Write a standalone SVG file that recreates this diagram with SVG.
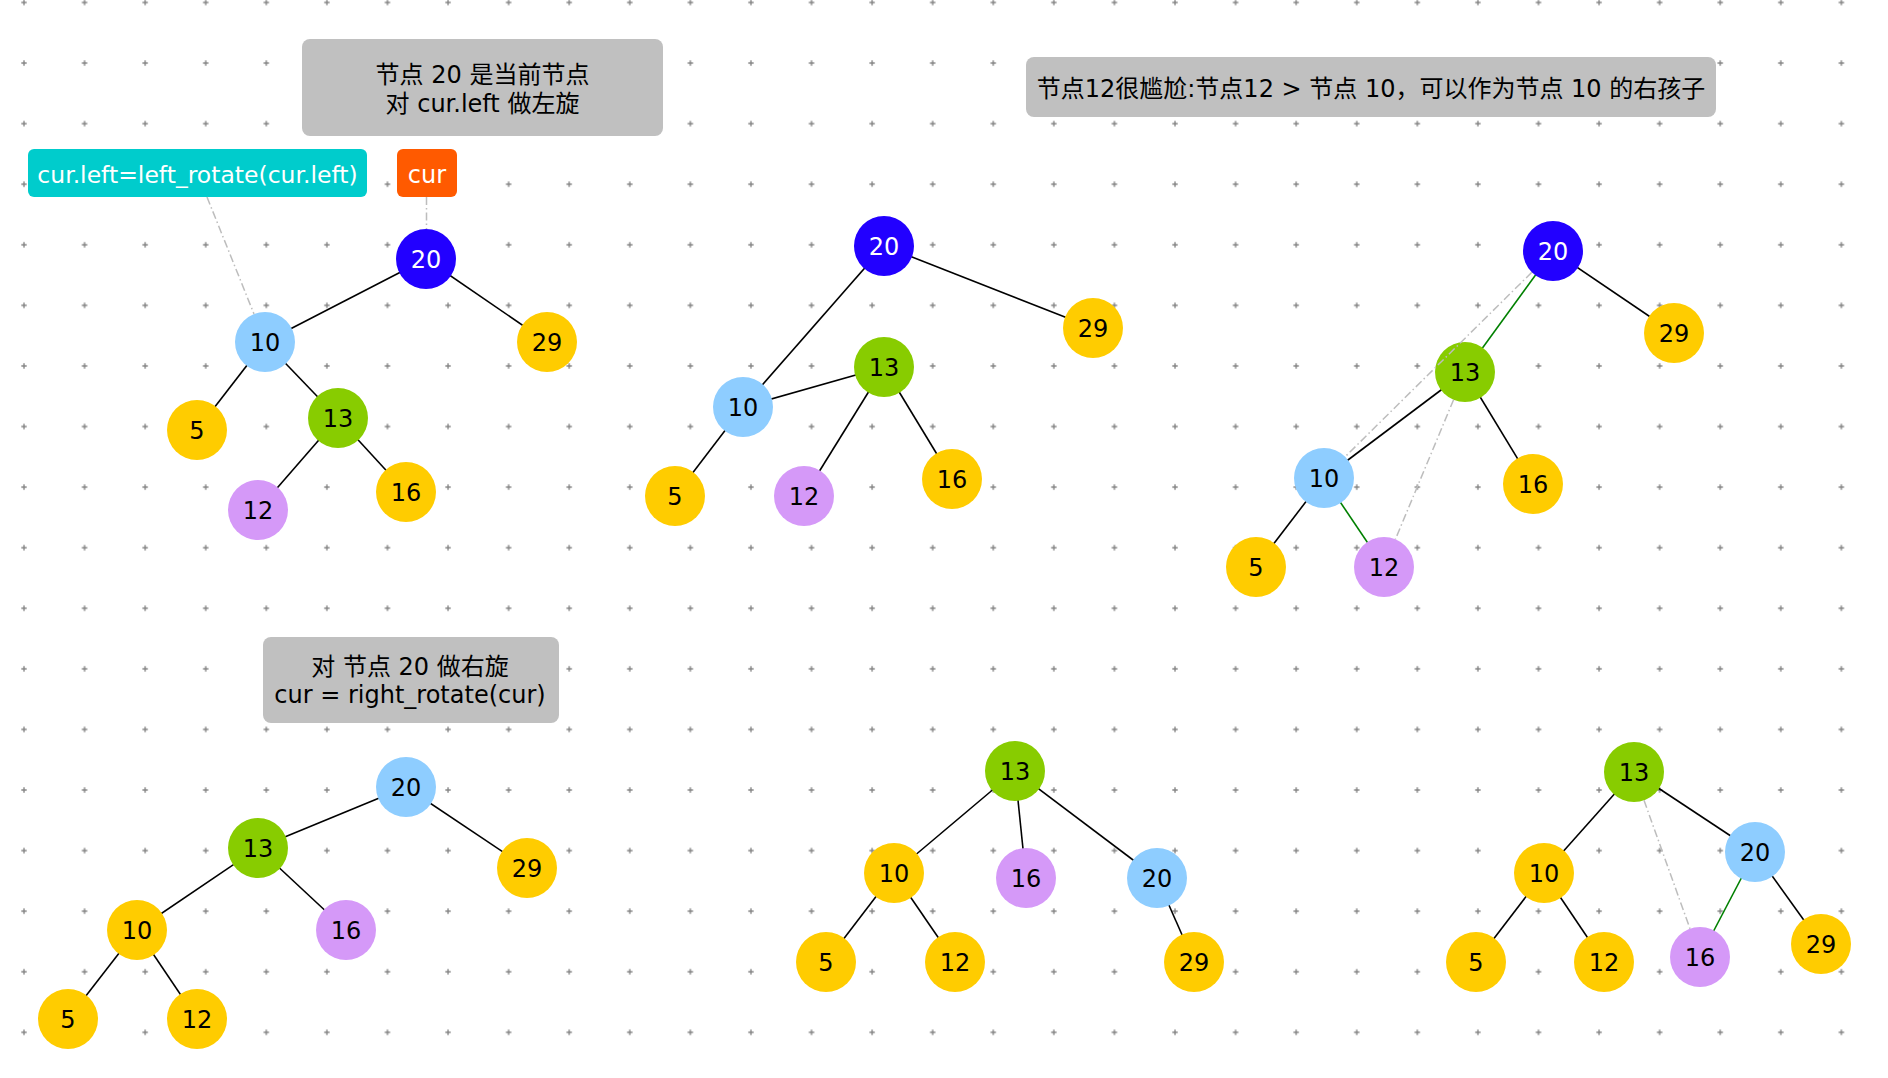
<svg xmlns="http://www.w3.org/2000/svg" width="1888" height="1078" viewBox="0 0 1888 1078">
<defs>
<pattern id="grid" patternUnits="userSpaceOnUse" x="21" y="-0.5" width="60.58" height="60.58">
<path d="M0.3 3H5.7M3 0.3V5.7" stroke="#858585" stroke-width="1.4" fill="none"/>
</pattern>
<style>
text{font-family:"DejaVu Sans","Noto Sans CJK SC",sans-serif;text-anchor:middle}
.nt{font-size:24px;fill:#000}
.wt{fill:#fff}
.blue{fill:#2200ff}
.lb{fill:#8ecdff}
.gr{fill:#88cc00}
.ye{fill:#ffcc00}
.pu{fill:#d599f8}
.e{stroke:#000;stroke-width:1.6;fill:none}
.g{stroke:#008000;stroke-width:1.6;fill:none}
.d{stroke:#bdbdbd;stroke-width:1.5;fill:none;stroke-dasharray:8 3 1.5 3}
.box{fill:#c0c0c0}
.bt{font-size:24px;fill:#000}
</style>
</defs>
<rect width="1888" height="1078" fill="#fff"/>
<rect width="1888" height="1078" fill="url(#grid)"/>

<g id="labels">
<g id="note1"><rect class="box" x="302" y="39" width="361" height="97" rx="8"/><text class="bt" x="482.5" y="83">节点 20 是当前节点</text><text class="bt" x="482.5" y="112">对 cur.left 做左旋</text></g>
<g id="note2"><rect class="box" x="1026" y="57" width="690" height="60" rx="8"/><text class="bt" x="1371" y="96.5">节点12很尴尬:节点12 &gt; 节点 10，可以作为节点 10 的右孩子</text></g>
<g id="note3"><rect class="box" x="263" y="637" width="296" height="86" rx="8"/><text class="bt" x="410" y="675">对 节点 20 做右旋</text><text class="bt" x="410" y="703">cur = right_rotate(cur)</text></g>
<g id="tagLeft"><rect x="28" y="149" width="339" height="48" rx="6" fill="#00cccc"/><text x="197.5" y="183" style="font-size:23.5px;fill:#fff">cur.left=left_rotate(cur.left)</text></g>
<g id="tagCur"><rect x="397" y="149" width="60" height="48" rx="6" fill="#ff5a00"/><text x="427" y="183" style="font-size:24px;fill:#fff">cur</text></g>
</g>

<g id="connectors">
<line class="e" x1="426" y1="259" x2="265" y2="342"/>
<line class="e" x1="426" y1="259" x2="547" y2="342"/>
<line class="e" x1="265" y1="342" x2="197" y2="430"/>
<line class="e" x1="265" y1="342" x2="338" y2="418"/>
<line class="e" x1="338" y1="418" x2="258" y2="510"/>
<line class="e" x1="338" y1="418" x2="406" y2="492"/>

<line class="e" x1="884" y1="246" x2="1093" y2="328"/>
<line class="e" x1="884" y1="246" x2="743" y2="407"/>
<line class="e" x1="743" y1="407" x2="675" y2="496"/>
<line class="e" x1="743" y1="407" x2="884" y2="367"/>
<line class="e" x1="884" y1="367" x2="804" y2="496"/>
<line class="e" x1="884" y1="367" x2="952" y2="479"/>

<line class="e" x1="1553" y1="251" x2="1674" y2="333"/>
<line class="g" x1="1553" y1="251" x2="1465" y2="372"/>
<line class="e" x1="1465" y1="372" x2="1324" y2="478"/>
<line class="e" x1="1465" y1="372" x2="1533" y2="484"/>
<line class="e" x1="1324" y1="478" x2="1256" y2="567"/>
<line class="g" x1="1324" y1="478" x2="1384" y2="567"/>

<line class="e" x1="406" y1="787" x2="258" y2="848"/>
<line class="e" x1="406" y1="787" x2="527" y2="868"/>
<line class="e" x1="258" y1="848" x2="137" y2="930"/>
<line class="e" x1="258" y1="848" x2="346" y2="930"/>
<line class="e" x1="137" y1="930" x2="68" y2="1019"/>
<line class="e" x1="137" y1="930" x2="197" y2="1019"/>

<line class="e" x1="1015" y1="771" x2="894" y2="873"/>
<line class="e" x1="1015" y1="771" x2="1026" y2="878"/>
<line class="e" x1="1015" y1="771" x2="1157" y2="878"/>
<line class="e" x1="894" y1="873" x2="826" y2="962"/>
<line class="e" x1="894" y1="873" x2="955" y2="962"/>
<line class="e" x1="1157" y1="878" x2="1194" y2="962"/>

<line class="e" x1="1634" y1="772" x2="1544" y2="873"/>
<line class="e" x1="1634" y1="772" x2="1755" y2="852"/>
<line class="e" x1="1544" y1="873" x2="1476" y2="962"/>
<line class="e" x1="1544" y1="873" x2="1604" y2="962"/>
<line class="g" x1="1755" y1="852" x2="1700" y2="957"/>
<line class="e" x1="1755" y1="852" x2="1821" y2="944"/>
</g>

<g id="treeA">
<g id="a20"><circle class="blue" cx="426" cy="259" r="30"/><text class="nt wt" x="426" y="267.5">20</text></g>
<g id="a29"><circle class="ye" cx="547" cy="342" r="30"/><text class="nt" x="547" y="350.5">29</text></g>
<g id="a10"><circle class="lb" cx="265" cy="342" r="30"/><text class="nt" x="265" y="350.5">10</text></g>
<g id="a13"><circle class="gr" cx="338" cy="418" r="30"/><text class="nt" x="338" y="426.5">13</text></g>
<g id="a5"><circle class="ye" cx="197" cy="430" r="30"/><text class="nt" x="197" y="438.5">5</text></g>
<g id="a12"><circle class="pu" cx="258" cy="510" r="30"/><text class="nt" x="258" y="518.5">12</text></g>
<g id="a16"><circle class="ye" cx="406" cy="492" r="30"/><text class="nt" x="406" y="500.5">16</text></g>
</g>
<g id="treeB">
<g id="b20"><circle class="blue" cx="884" cy="246" r="30"/><text class="nt wt" x="884" y="254.5">20</text></g>
<g id="b29"><circle class="ye" cx="1093" cy="328" r="30"/><text class="nt" x="1093" y="336.5">29</text></g>
<g id="b13"><circle class="gr" cx="884" cy="367" r="30"/><text class="nt" x="884" y="375.5">13</text></g>
<g id="b10"><circle class="lb" cx="743" cy="407" r="30"/><text class="nt" x="743" y="415.5">10</text></g>
<g id="b5"><circle class="ye" cx="675" cy="496" r="30"/><text class="nt" x="675" y="504.5">5</text></g>
<g id="b12"><circle class="pu" cx="804" cy="496" r="30"/><text class="nt" x="804" y="504.5">12</text></g>
<g id="b16"><circle class="ye" cx="952" cy="479" r="30"/><text class="nt" x="952" y="487.5">16</text></g>
</g>
<g id="treeC">
<g id="c20"><circle class="blue" cx="1553" cy="251" r="30"/><text class="nt wt" x="1553" y="259.5">20</text></g>
<g id="c29"><circle class="ye" cx="1674" cy="333" r="30"/><text class="nt" x="1674" y="341.5">29</text></g>
<g id="c13"><circle class="gr" cx="1465" cy="372" r="30"/><text class="nt" x="1465" y="380.5">13</text></g>
<g id="c10"><circle class="lb" cx="1324" cy="478" r="30"/><text class="nt" x="1324" y="486.5">10</text></g>
<g id="c16"><circle class="ye" cx="1533" cy="484" r="30"/><text class="nt" x="1533" y="492.5">16</text></g>
<g id="c5"><circle class="ye" cx="1256" cy="567" r="30"/><text class="nt" x="1256" y="575.5">5</text></g>
<g id="c12"><circle class="pu" cx="1384" cy="567" r="30"/><text class="nt" x="1384" y="575.5">12</text></g>
</g>
<g id="treeD">
<g id="d20"><circle class="lb" cx="406" cy="787" r="30"/><text class="nt" x="406" y="795.5">20</text></g>
<g id="d13"><circle class="gr" cx="258" cy="848" r="30"/><text class="nt" x="258" y="856.5">13</text></g>
<g id="d29"><circle class="ye" cx="527" cy="868" r="30"/><text class="nt" x="527" y="876.5">29</text></g>
<g id="d10"><circle class="ye" cx="137" cy="930" r="30"/><text class="nt" x="137" y="938.5">10</text></g>
<g id="d16"><circle class="pu" cx="346" cy="930" r="30"/><text class="nt" x="346" y="938.5">16</text></g>
<g id="d5"><circle class="ye" cx="68" cy="1019" r="30"/><text class="nt" x="68" y="1027.5">5</text></g>
<g id="d12"><circle class="ye" cx="197" cy="1019" r="30"/><text class="nt" x="197" y="1027.5">12</text></g>
</g>
<g id="treeE">
<g id="e13"><circle class="gr" cx="1015" cy="771" r="30"/><text class="nt" x="1015" y="779.5">13</text></g>
<g id="e10"><circle class="ye" cx="894" cy="873" r="30"/><text class="nt" x="894" y="881.5">10</text></g>
<g id="e16"><circle class="pu" cx="1026" cy="878" r="30"/><text class="nt" x="1026" y="886.5">16</text></g>
<g id="e20"><circle class="lb" cx="1157" cy="878" r="30"/><text class="nt" x="1157" y="886.5">20</text></g>
<g id="e5"><circle class="ye" cx="826" cy="962" r="30"/><text class="nt" x="826" y="970.5">5</text></g>
<g id="e12"><circle class="ye" cx="955" cy="962" r="30"/><text class="nt" x="955" y="970.5">12</text></g>
<g id="e29"><circle class="ye" cx="1194" cy="962" r="30"/><text class="nt" x="1194" y="970.5">29</text></g>
</g>
<g id="treeF">
<g id="f13"><circle class="gr" cx="1634" cy="772" r="30"/><text class="nt" x="1634" y="780.5">13</text></g>
<g id="f10"><circle class="ye" cx="1544" cy="873" r="30"/><text class="nt" x="1544" y="881.5">10</text></g>
<g id="f20"><circle class="lb" cx="1755" cy="852" r="30"/><text class="nt" x="1755" y="860.5">20</text></g>
<g id="f5"><circle class="ye" cx="1476" cy="962" r="30"/><text class="nt" x="1476" y="970.5">5</text></g>
<g id="f12"><circle class="ye" cx="1604" cy="962" r="30"/><text class="nt" x="1604" y="970.5">12</text></g>
<g id="f16"><circle class="pu" cx="1700" cy="957" r="30"/><text class="nt" x="1700" y="965.5">16</text></g>
<g id="f29"><circle class="ye" cx="1821" cy="944" r="30"/><text class="nt" x="1821" y="952.5">29</text></g>
</g>

<g id="dashed-connectors">
<line class="d" x1="207" y1="197" x2="254" y2="314"/>
<line class="d" x1="426.5" y1="197" x2="426.5" y2="229"/>
<line class="d" x1="1531.8" y1="272.3" x2="1345.2" y2="456.7"/>
<line class="d" x1="1453.6" y1="399.7" x2="1395.4" y2="539.3"/>
<line class="d" x1="1644" y1="800.3" x2="1690" y2="928.7"/>
</g>
</svg>
